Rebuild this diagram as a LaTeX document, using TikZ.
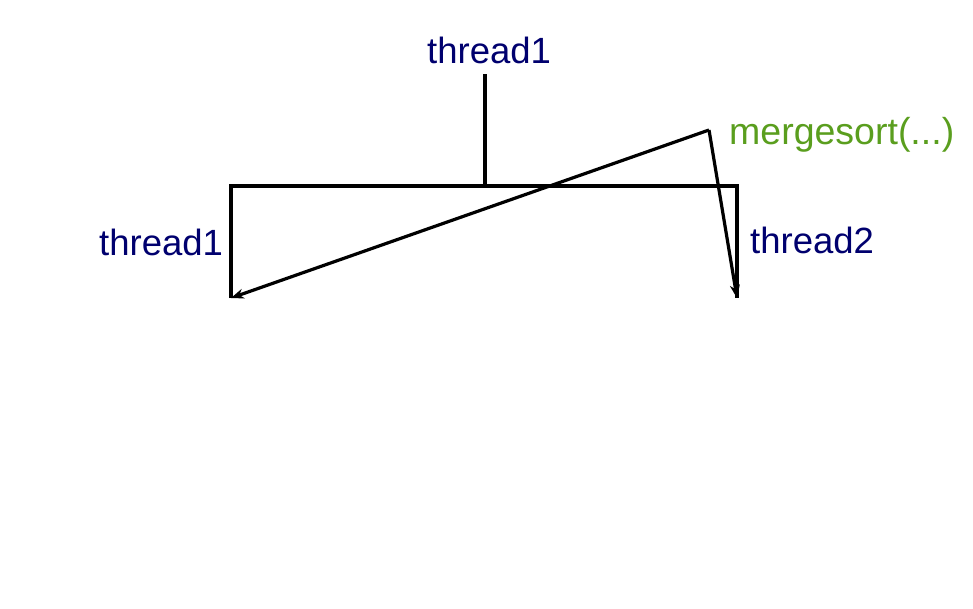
\documentclass[tikz,border=0pt]{standalone}
\usepackage{fontspec}
\setmainfont{Liberation Sans}
\usetikzlibrary{arrows.meta}
\definecolor{navy}{RGB}{0,0,110}
\definecolor{mgreen}{RGB}{90,158,30}
\begin{document}
\begin{tikzpicture}[x=1pt,y=-1pt,
  lbl/.style={font=\fontsize{36.5}{40}\selectfont, inner sep=0pt, anchor=base west},
  wire/.style={line width=3.2pt, black},
  arr/.style={wire, -{Stealth[length=13pt,width=10pt]}}]
\useasboundingbox (0,0) rectangle (973,608);
\node[lbl, text=navy] (t0) at (427,63) {thread1};
\node[lbl, text=navy] (t1) at (99,255) {thread1};
\node[lbl, text=navy] (t2) at (750,253) {thread2};
\node[lbl, text=mgreen, font=\fontsize{37.5}{40}\selectfont] (ms) at (729,144) {mergesort(...)};
\coordinate (top) at (485,74);
\coordinate (mid) at (485,186);
\coordinate (hl) at (231,186);
\coordinate (hr) at (737,186);
\coordinate (bl) at (231,298);
\coordinate (br) at (737,298);
\coordinate (m) at (709,130);
\draw[wire] (top) -- (mid);
\draw[wire] (bl) -- (hl) -- (hr) -- (br);
\draw[arr] (m) -- (bl);
\draw[arr] (m) -- (br);
\end{tikzpicture}
\end{document}
